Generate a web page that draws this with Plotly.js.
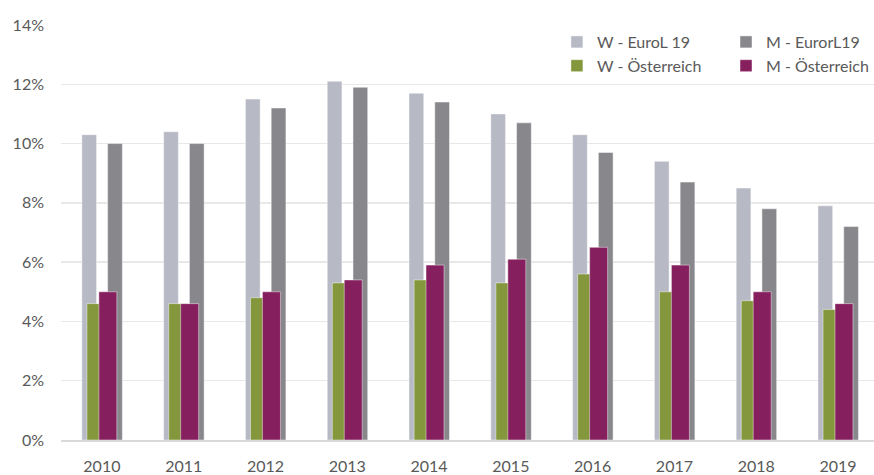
<!DOCTYPE html>
<html>
<head>
<meta charset="utf-8">
<script src="https://cdn.plot.ly/plotly-3.0.1.min.js"></script>
<style>html,body{margin:0;padding:0;background:#fff;}#chart{width:874px;height:475px;}</style>
</head>
<body>
<div id="chart"></div>
<script>
var years = ['2010','2011','2012','2013','2014','2015','2016','2017','2018','2019'];
var wEuro = [10.3, 10.4, 11.5, 12.1, 11.7, 11.0, 10.3, 9.4, 8.5, 7.9];
var mEuro = [10.0, 10.0, 11.2, 11.9, 11.4, 10.7, 9.7, 8.7, 7.8, 7.2];
var wAT = [4.6, 4.6, 4.8, 5.3, 5.4, 5.3, 5.6, 5.0, 4.7, 4.4];
var mAT = [5.0, 4.6, 5.0, 5.4, 5.9, 6.1, 6.5, 5.9, 5.0, 4.6];
var yTicks = [0, 2, 4, 6, 8, 10, 12, 14];

var FONT = 'Lato, "Open Sans", sans-serif';
var TXT = '#595959';

function bar(name, y, color, offset, width, legend) {
  return {
    type: 'bar', name: name, x: years, y: y,
    offset: offset, width: width,
    marker: {color: color, line: {color: 'rgba(255,255,255,0.45)', width: 1}},
    legend: legend, hoverinfo: 'x+y+name'
  };
}

var data = [
  bar('W - EuroL 19', wEuro, '#b7b9c5', -0.245, 0.18, 'legend'),
  bar('M - EurorL19', mEuro, '#88878c', 0.07, 0.18, 'legend2'),
  bar('W - Österreich', wAT, '#84973c', -0.183, 0.22, 'legend'),
  bar('M - Österreich', mAT, '#861f5e', -0.037, 0.22, 'legend2')
];

var legendBase = {
  orientation: 'v', yanchor: 'top',
  xref: 'paper', yref: 'paper',
  bgcolor: 'rgba(255,255,255,0)', borderwidth: 0,
  font: {family: FONT, size: 16, color: TXT},
  itemwidth: 30, tracegroupgap: 0, traceorder: 'normal'
};

var layout = {
  width: 874, height: 475,
  margin: {l: 61, r: 0, t: 25, b: 35},
  paper_bgcolor: '#fff', plot_bgcolor: '#fff',
  barmode: 'overlay',
  showlegend: true,
  font: {family: FONT, size: 16, color: TXT},
  xaxis: {
    type: 'category', range: [-0.5, 9.44],
    showgrid: false, zeroline: false,
    showline: true, linecolor: '#d9d9d9', linewidth: 1.5,
    ticks: '', ticklabelstandoff: 11,
    tickfont: {family: FONT, size: 16, color: TXT},
    fixedrange: true
  },
  yaxis: {
    range: [0, 14], tickvals: yTicks, ticktext: yTicks.map(function(v){return v + '%';}),
    showgrid: true, gridcolor: '#e8e8e8', gridwidth: 1.5,
    zeroline: false, showline: false, ticks: '',
    ticklabelstandoff: 16,
    tickfont: {family: FONT, size: 16, color: TXT},
    fixedrange: true
  },
  legend: Object.assign({}, legendBase, {x: 0.610, xanchor: 'left', y: 1.0}),
  legend2: Object.assign({}, legendBase, {x: 1.0, xanchor: 'right', y: 1.0})
};

Plotly.newPlot('chart', data, layout, {displayModeBar: false, staticPlot: true});
</script>
</body>
</html>
